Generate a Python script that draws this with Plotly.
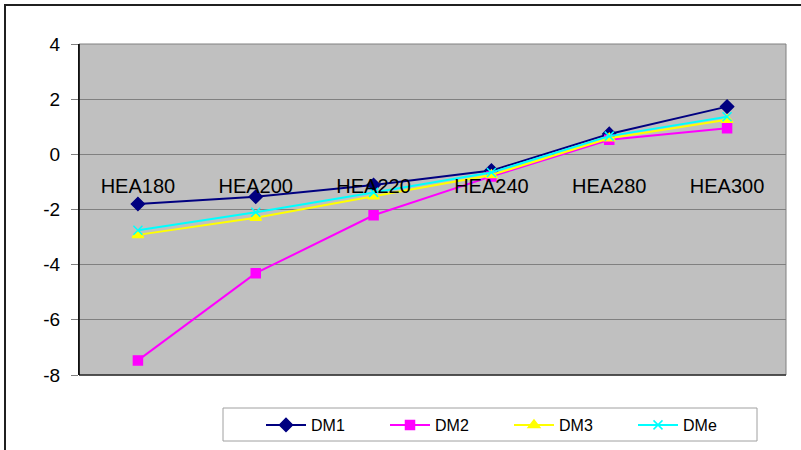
import plotly.graph_objects as go

categories = ["HEA180", "HEA200", "HEA220", "HEA240", "HEA280", "HEA300"]
dm1 = [-1.80, -1.54, -1.11, -0.59, 0.74, 1.73]
dm2 = [-7.47, -4.31, -2.21, -0.80, 0.53, 0.95]
dm3 = [-2.92, -2.30, -1.52, -0.75, 0.58, 1.25]
dme = [-2.75, -2.10, -1.38, -0.66, 0.66, 1.36]
y_ticks = [4, 2, 0, -2, -4, -6, -8]
y_tick_text = ["4", "2", "0", "-2", "-4", "-6", "-8"]

W, H = 801, 450
L, R, T, B = 79, 786, 44, 375

fig = go.Figure()
series = [
    ("DM1", dm1, "#000080", "diamond", 10),
    ("DM2", dm2, "#FF00FF", "square", 9),
    ("DM3", dm3, "#FFFF00", "triangle-up", 10),
    ("DMe", dme, "#00FFFF", "x-thin-open", 9),
]
for name, vals, col, sym, sz in series:
    fig.add_trace(go.Scatter(
        x=categories, y=vals, name=name, mode="lines+markers",
        line=dict(color=col, width=2),
        marker=dict(symbol=sym, size=sz, color=col, line=dict(color=col, width=1.5)),
    ))

pw = R - L
ph = B - T
def px_x(p):
    return (p - L) / pw
def px_y(p):
    return (B - p) / ph

fig.update_layout(
    width=W, height=H,
    margin=dict(l=L, r=W - R, t=T, b=H - B),
    paper_bgcolor="white",
    plot_bgcolor="#C0C0C0",
    font=dict(family="Arial, Liberation Sans, sans-serif", size=16, color="black"),
    showlegend=True,
    legend=dict(
        orientation="h", xref="container", x=261 / W, xanchor="left",
        yref="container", y=1 - 425 / H, yanchor="middle",
        bgcolor="rgba(0,0,0,0)", borderwidth=0,
        font=dict(size=16), entrywidth=69, entrywidthmode="pixels",
        itemwidth=40,
    ),
    xaxis=dict(
        type="category", range=[-0.5, 5.5], showgrid=False, showline=False,
        zeroline=False, ticks="", anchor="free", position=px_y(172),
        tickfont=dict(size=20), fixedrange=True, automargin=False,
    ),
    yaxis=dict(
        range=[-8, 4], tickvals=y_ticks, ticktext=y_tick_text,
        showgrid=True, gridcolor="#808080", gridwidth=1,
        zeroline=True, zerolinecolor="#808080", zerolinewidth=1,
        showline=True, linecolor="black", linewidth=1,
        ticks="outside", ticklen=7, tickcolor="#808080",
        tickfont=dict(size=19), ticklabelstandoff=7, fixedrange=True,
        automargin=False,
    ),
    shapes=[
        dict(type="rect", xref="paper", yref="paper", x0=0, x1=1, y0=0, y1=1,
             line=dict(color="#808080", width=1), layer="above"),
        dict(type="line", xref="paper", yref="paper", x0=0, x1=1, y0=0, y1=0,
             line=dict(color="#303030", width=1.5), layer="above"),
        dict(type="line", xref="paper", yref="paper", x0=0, x1=0, y0=0, y1=1,
             line=dict(color="black", width=1.5), layer="above"),
        dict(type="rect", xref="paper", yref="paper",
             x0=px_x(223), x1=px_x(757), y0=px_y(441), y1=px_y(408),
             fillcolor="white", line=dict(color="#A0A0A0", width=1), layer="below"),
        dict(type="rect", xref="paper", yref="paper",
             x0=px_x(5), x1=px_x(830), y0=px_y(480), y1=px_y(5),
             line=dict(color="#202020", width=2), layer="above"),
    ],
)

fig.write_html("out.html", config={"displayModeBar": False},
               post_script="document.body.style.margin='0';")
